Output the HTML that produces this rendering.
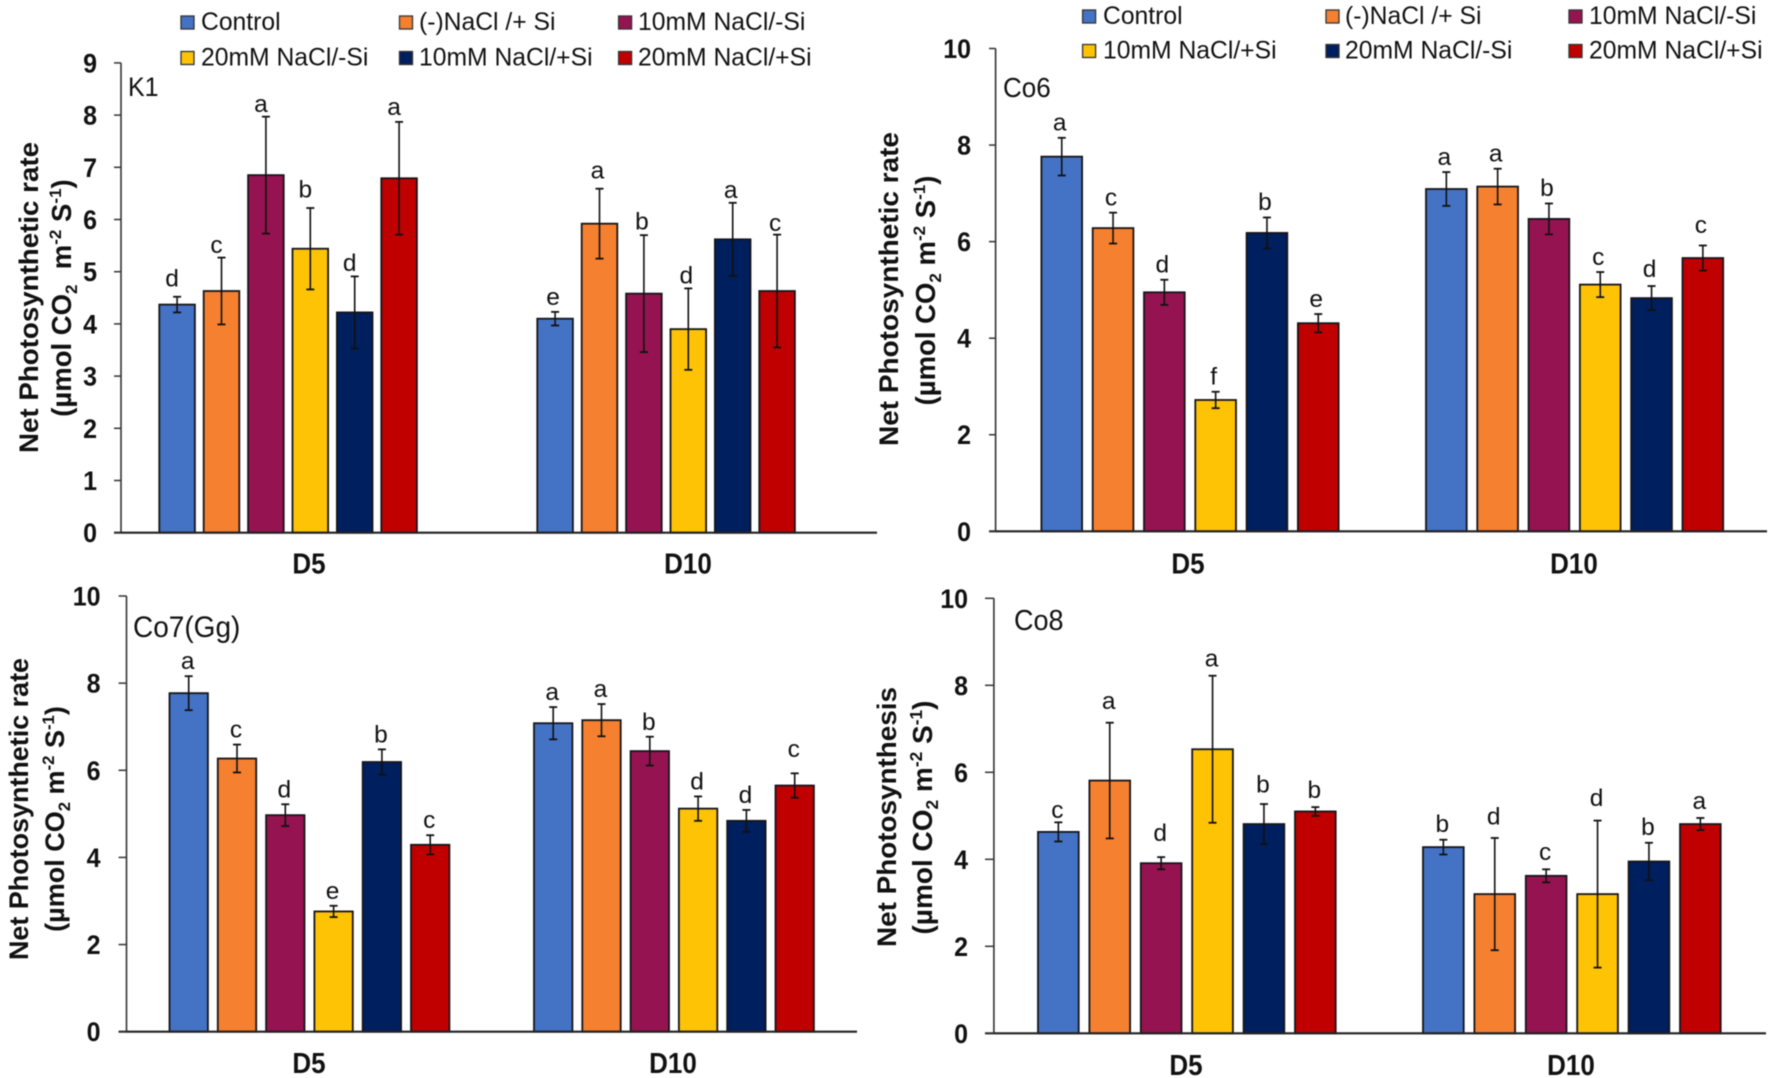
<!DOCTYPE html>
<html lang="en">
<head>
<meta charset="utf-8">
<title>Net photosynthetic rate by cultivar and salt treatment</title>
<style>
html,body{margin:0;padding:0;background:#fff;width:1772px;height:1078px;overflow:hidden}
svg{display:block;filter:blur(.4px)}
text{font-family:"Liberation Sans",Arial,sans-serif;fill:#111}
.tick,.group,.title{font-weight:bold}
</style>
</head>
<body>
<svg id="figure" xmlns="http://www.w3.org/2000/svg" width="1772" height="1078" viewBox="0 0 1772 1078"></svg>
<script>
const categories = ['D5', 'D10'];

const k1Legend = ['Control', '(-)NaCl /+ Si', '10mM NaCl/-Si', '20mM NaCl/-Si', '10mM NaCl/+Si', '20mM NaCl/+Si'];
const k1Values = [4.37, 4.63, 6.85, 5.44, 4.22, 6.79, 4.10, 5.92, 4.58, 3.90, 5.62, 4.63];
const k1Errors = [0.15, 0.64, 1.12, 0.78, 0.69, 1.08, 0.13, 0.67, 1.12, 0.78, 0.70, 1.08];
const k1Letters = ['d', 'c', 'a', 'b', 'd', 'a', 'e', 'a', 'b', 'd', 'a', 'c'];
const k1LetterLift = [0.20, 0.09, 0.09, 0.20, 0.10, 0.13, 0.13, 0.20, 0.11, 0.09, 0.09, 0.07];
const k1Ticks = [0, 1, 2, 3, 4, 5, 6, 7, 8, 9];

const co6Legend = ['Control', '(-)NaCl /+ Si', '10mM NaCl/-Si', '10mM NaCl/+Si', '20mM NaCl/-Si', '20mM NaCl/+Si'];
const co6Values = [7.76, 6.28, 4.95, 2.72, 6.18, 4.31, 7.09, 7.14, 6.47, 5.11, 4.83, 5.66];
const co6Errors = [0.39, 0.32, 0.26, 0.17, 0.32, 0.19, 0.35, 0.37, 0.32, 0.26, 0.25, 0.26];
const co6Letters = ['a', 'c', 'd', 'f', 'b', 'e', 'a', 'a', 'b', 'c', 'd', 'c'];
const co6LetterLift = [0.15, 0.15, 0.15, 0.15, 0.15, 0.15, 0.15, 0.15, 0.15, 0.15, 0.19, 0.26];

const co7Values = [7.77, 6.27, 4.97, 2.76, 6.19, 4.29, 7.08, 7.15, 6.44, 5.12, 4.84, 5.65];
const co7Errors = [0.39, 0.32, 0.25, 0.13, 0.29, 0.22, 0.37, 0.37, 0.33, 0.28, 0.25, 0.28];
const co7Letters = ['a', 'c', 'd', 'e', 'b', 'c', 'a', 'a', 'b', 'd', 'd', 'c'];
const co7LetterLift = [0.16, 0.16, 0.16, 0.16, 0.16, 0.16, 0.16, 0.16, 0.16, 0.16, 0.16, 0.37];

const co8Values = [4.63, 5.81, 3.91, 6.53, 4.81, 5.10, 4.28, 3.20, 3.62, 3.20, 3.95, 4.81];
const co8Errors = [0.22, 1.33, 0.14, 1.69, 0.46, 0.10, 0.17, 1.29, 0.15, 1.69, 0.43, 0.14];
const co8Letters = ['c', 'a', 'd', 'a', 'b', 'b', 'b', 'd', 'c', 'd', 'b', 'a'];
const co8LetterLift = [0.10, 0.31, 0.37, 0.21, 0.26, 0.21, 0.18, 0.31, 0.21, 0.34, 0.18, 0.21];

const evenTicks = [0, 2, 4, 6, 8, 10];
const seriesColors = ['#4472c4', '#f5802f', '#951350', '#ffc305', '#001f5f', '#c00000'];

const NS = 'http://www.w3.org/2000/svg';
const figure = document.getElementById('figure');

function make(parent, tag, attrs, content) {
  const el = document.createElementNS(NS, tag);
  for (const key in attrs) el.setAttribute(key, attrs[key]);
  if (content !== undefined) el.textContent = content;
  parent.appendChild(el);
  return el;
}

function addParts(textEl, parts, size) {
  parts.forEach(function (part) {
    const shift = part[1];
    const small = shift !== 0;
    const span = make(textEl, 'tspan', { dy: shift, 'font-size': small ? size * 0.62 : size }, part[0]);
    
    
    if (small) {
      const reset = make(textEl, 'tspan', { dy: -shift, 'font-size': size }, '\u200b');
      
      
    }
  });
}

function drawPanel(p) {
  const g = make(figure, 'g', {});
  
  

  const yOf = function (v) { return p.y0 - (v / p.max) * (p.y0 - p.yTop); };
  const xOf = function (group, i) { return p.groupLeft[group] + i * p.step; };

  // bars and error bars
  p.values.forEach(function (v, idx) {
    const group = Math.floor(idx / 6);
    const i = idx % 6;
    const left = xOf(group, i);
    const cx = left + p.barW / 2;
    const bar = make(g, 'rect', {
      x: left, y: yOf(v), width: p.barW, height: p.y0 - yOf(v),
      fill: seriesColors[i], stroke: '#15151a', 'stroke-width': 1.8
    });
    
    

    const top = yOf(v + p.errors[idx]);
    const bottom = yOf(v - p.errors[idx]);
    const stem = make(g, 'line', { x1: cx, x2: cx, y1: top, y2: bottom, stroke: '#111', 'stroke-width': 1.6 });
    
    
    const capTop = make(g, 'line', { x1: cx - 4, x2: cx + 4, y1: top, y2: top, stroke: '#111', 'stroke-width': 1.8 });
    
    
    const capBottom = make(g, 'line', { x1: cx - 4, x2: cx + 4, y1: bottom, y2: bottom, stroke: '#111', 'stroke-width': 1.8 });
    
    

    const letterY = yOf(v + p.errors[idx] + p.lift[idx]);
    const letter = make(g, 'text', { x: cx + p.letterDx[group], y: letterY, 'text-anchor': 'middle', 'font-size': 24.5 }, p.letters[idx]);
    
    
  });

  // axes
  const yAxis = make(g, 'line', { x1: p.x0, x2: p.x0, y1: p.yTop, y2: p.y0, stroke: '#333', 'stroke-width': 1.6 });
  
  
  const xAxis = make(g, 'line', { x1: p.tickStart, x2: p.xEnd, y1: p.y0, y2: p.y0, stroke: '#222', 'stroke-width': 2.2 });
  
  

  p.ticks.forEach(function (t) {
    const mark = make(g, 'line', { x1: p.tickStart, x2: p.x0, y1: yOf(t), y2: yOf(t), stroke: '#333', 'stroke-width': 1.5 });
    
    
    const label = make(g, 'text', {
      class: 'tick', x: 0, y: 0, 'text-anchor': 'end', 'font-size': 25,
      transform: 'translate(' + p.tickRight + ' ' + (yOf(t) + 9.5) + ') scale(1 1.08)'
    }, String(t));
    
    
  });

  categories.forEach(function (name, i) {
    const label = make(g, 'text', {
      class: 'group', x: 0, y: 0, 'text-anchor': 'middle', 'font-size': 26,
      transform: 'translate(' + p.groupLabelX[i] + ' ' + p.groupLabelY + ') scale(1 1.1)'
    }, name);
    
    
  });

  const panelLabel = make(g, 'text', {
    x: 0, y: 0, 'font-size': p.nameSize,
    transform: 'translate(' + p.nameX + ' ' + p.nameY + ') scale(1 1.06)'
  }, p.name);
  
  

  // axis titles
  const title1 = make(g, 'text', {
    class: 'title', 'text-anchor': 'middle', 'font-size': 27,
    x: 0, y: 0, transform: 'translate(' + p.title1[0] + ' ' + p.title1[1] + ') rotate(-90)',
    textLength: p.title1[2], lengthAdjust: 'spacingAndGlyphs'
  }, p.titleText);
  
  

  const title2 = make(g, 'text', {
    class: 'title', 'text-anchor': 'middle', 'font-size': p.unitSize,
    x: 0, y: 0, transform: 'translate(' + p.title2[0] + ' ' + p.title2[1] + ') rotate(-90)'
  });
  
  
  addParts(title2, [
    ['(\u00b5mol CO', 0], ['2', 6], [p.unitGap + 'm', 0], ['-2', -10], ['\u00a0S', 0], ['-1', -10], [')', 0]
  ], p.unitSize);

  // legend
  if (p.legend) {
    p.legend.forEach(function (name, i) {
      const col = i % 3;
      const row = Math.floor(i / 3);
      const item = make(g, 'g', {});
      
      
      const swatch = make(item, 'rect', {
        x: p.legendSwatchX[col], y: p.legendY[row] - 5.5, width: 13, height: 13,
        fill: seriesColors[i], stroke: '#333', 'stroke-width': 1.3
      });
      
      
      const text = make(item, 'text', { x: p.legendTextX[col], y: p.legendY[row] + 8.5, 'font-size': 24.7 }, name);
      
      
    });
  }
}

drawPanel({
  id: 'k1', name: 'K1', nameSize: 25, values: k1Values, errors: k1Errors, letters: k1Letters, lift: k1LetterLift, ticks: k1Ticks, max: 9,
  x0: 121, xEnd: 877, tickStart: 114, tickRight: 97, y0: 532.7, yTop: 62.9,
  groupLeft: [159.3, 537.3], step: 44.4, barW: 35.6, letterDx: [-5, -2],
  groupLabelX: [309, 688], groupLabelY: 573.5, nameX: 128, nameY: 96,
  titleText: 'Net Photosynthetic rate', title1: [38, 297.5, 311], title2: [71, 298], unitSize: 27.5, unitGap: '\u00a0\u00a0',
  legend: k1Legend, legendSwatchX: [181, 399.5, 618.6], legendTextX: [201, 419, 638], legendY: [21.5, 57]
});
drawPanel({
  id: 'co6', name: 'Co6', nameSize: 26, values: co6Values, errors: co6Errors, letters: co6Letters, lift: co6LetterLift, ticks: evenTicks, max: 10,
  x0: 995.6, xEnd: 1767, tickStart: 989, tickRight: 971, y0: 531.3, yTop: 48.5,
  groupLeft: [1041.4, 1426], step: 51.3, barW: 40.7, letterDx: [-2, -2],
  groupLabelX: [1188, 1574], groupLabelY: 573.5, nameX: 1003, nameY: 97,
  titleText: 'Net Photosynthetic rate', title1: [898, 289, 314], title2: [935, 290.5], unitSize: 27.5, unitGap: '\u00a0',
  legend: co6Legend, legendSwatchX: [1082.6, 1326, 1569], legendTextX: [1103, 1345, 1589], legendY: [15.5, 50]
});
drawPanel({
  id: 'co7', name: 'Co7(Gg)', nameSize: 28, values: co7Values, errors: co7Errors, letters: co7Letters, lift: co7LetterLift, ticks: evenTicks, max: 10,
  x0: 126.5, xEnd: 857, tickStart: 118.6, tickRight: 100.5, y0: 1031.7, yTop: 596,
  groupLeft: [169.5, 534], step: 48.3, barW: 38.4, letterDx: [-1, -1],
  groupLabelX: [309, 673], groupLabelY: 1073, nameX: 133, nameY: 637,
  titleText: 'Net Photosynthetic rate', title1: [28, 809, 302], title2: [64, 819], unitSize: 27, unitGap: '\u00a0',
  legend: null
});
drawPanel({
  id: 'co8', name: 'Co8', nameSize: 27, values: co8Values, errors: co8Errors, letters: co8Letters, lift: co8LetterLift, ticks: evenTicks, max: 10,
  x0: 993.9, xEnd: 1766, tickStart: 985, tickRight: 968, y0: 1033.3, yTop: 598.3,
  groupLeft: [1038, 1423], step: 51.4, barW: 40.7, letterDx: [-1, -1],
  groupLabelX: [1186, 1571], groupLabelY: 1075, nameX: 1014, nameY: 630,
  titleText: 'Net Photosynthesis', title1: [896, 817, 260], title2: [932, 817.5], unitSize: 28, unitGap: '\u00a0',
  legend: null
});
</script>
</body>
</html>
